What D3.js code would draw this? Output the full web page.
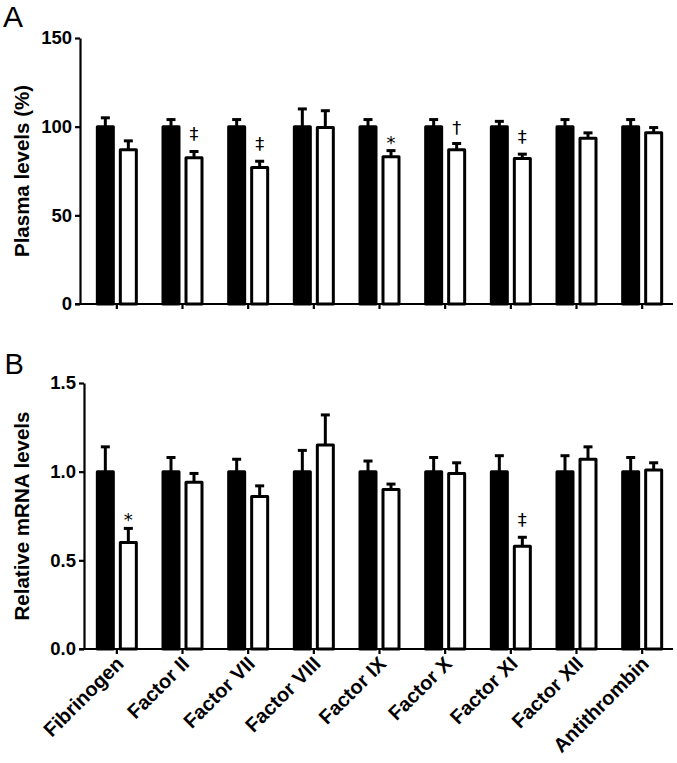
<!DOCTYPE html>
<html><head><meta charset="utf-8">
<script src="https://cdn.jsdelivr.net/npm/d3@7"></script>
<style>body{margin:0;background:#fff} svg{display:block} text{font-family:"Liberation Sans",Arial,Helvetica,sans-serif}</style>
</head><body><svg id="c" width="677" height="763"></svg>
<script>
const categories = ["Fibrinogen","Factor II","Factor VII","Factor VIII","Factor IX","Factor X","Factor XI","Factor XII","Antithrombin"];
const plasmaControl = [100,100,100,100,100,100,100,100,100];
const plasmaControlErr = [5,4,4,10,4,4,3,4,4];
const plasmaTreated = [87,82.5,77,99.5,83,87,82,93.5,96.5];
const plasmaTreatedErr = [5,3.5,3.5,9.5,3.5,3.5,2.5,3,3];
const plasmaMarks = ["","‡","‡","","*","†","‡","",""];
const plasmaTicks = [0,50,100,150];
const mrnaControl = [1,1,1,1,1,1,1,1,1];
const mrnaControlErr = [0.14,0.08,0.07,0.12,0.06,0.08,0.09,0.09,0.08];
const mrnaTreated = [0.60,0.94,0.86,1.15,0.90,0.99,0.58,1.07,1.01];
const mrnaTreatedErr = [0.08,0.05,0.06,0.17,0.03,0.06,0.05,0.07,0.04];
const mrnaMarks = ["*","","","","","","‡","",""];
const mrnaTicks = [0,0.5,1.0,1.5];

const svg = d3.select("#c");
const x = d3.scaleBand().domain(categories).range([84, 675]).padding(0);
const markOffset = {"*": 2, "‡": 11, "†": 10};

function panel(o) {
  const y = d3.scaleLinear().domain([0, o.max]).range([o.y0, o.y1]);
  const g = svg.append("g");
  const ya = g.append("g").attr("transform", `translate(${o.ax},0)`)
    .call(d3.axisLeft(y).tickValues(o.ticks).tickSize(5).tickSizeOuter(0).tickPadding(3).tickFormat(o.fmt));
  ya.selectAll("path,line").attr("stroke", "#000").attr("stroke-width", 2.2);
  ya.selectAll("text").attr("font-size", 18.5).attr("font-weight", "bold").attr("fill", "#000")
    .attr("font-family", '"Liberation Sans",Arial,sans-serif');
  const xa = g.append("g").attr("transform", `translate(0,${o.y0})`)
    .call(d3.axisBottom(x).tickSize(5).tickSizeOuter(0).tickFormat(""));
  xa.select(".domain").attr("d", `M${o.ax - 5},0H673`);
  xa.selectAll("path,line").attr("stroke", "#000").attr("stroke-width", 2.2);

  const series = [
    {vals: o.ctrl, errs: o.ctrlErr, fill: "#000", off: -11.5},
    {vals: o.trt, errs: o.trtErr, fill: "#fff", off: 11.5}
  ];
  series.forEach(s => {
    const cx = c => x(c) + x.bandwidth() / 2 + s.off;
    const eg = g.append("g");
    eg.selectAll("line.v").data(categories).join("line")
      .attr("x1", cx).attr("x2", cx)
      .attr("y1", (c, i) => y(s.vals[i])).attr("y2", (c, i) => y(s.vals[i] + s.errs[i]))
      .attr("stroke", "#000").attr("stroke-width", 3);
    eg.selectAll("line.cap").data(categories).join("line")
      .attr("x1", c => cx(c) - 4.5).attr("x2", c => cx(c) + 4.5)
      .attr("y1", (c, i) => y(s.vals[i] + s.errs[i])).attr("y2", (c, i) => y(s.vals[i] + s.errs[i]))
      .attr("stroke", "#000").attr("stroke-width", 3);
    g.append("g").selectAll("rect").data(categories).join("rect")
      .attr("x", c => cx(c) - 8).attr("width", 16)
      .attr("y", (c, i) => y(s.vals[i])).attr("height", (c, i) => o.y0 - y(s.vals[i]))
      .attr("fill", s.fill).attr("stroke", "#000").attr("stroke-width", 3).attr("stroke-linejoin", "round");
  });
  g.append("g").selectAll("text").data(categories).join("text")
    .attr("x", c => x(c) + x.bandwidth() / 2 + 11.5)
    .attr("y", (c, i) => y(o.trt[i] + o.trtErr[i]) - (markOffset[o.marks[i]] || 0))
    .attr("text-anchor", "middle").attr("font-size", 20).attr("fill", "#000")
    .style("font-family", '"DejaVu Sans",sans-serif').style("font-size", "18px")
    .text((c, i) => o.marks[i]);
  g.append("text").attr("transform", `translate(29,${(o.y0 + o.y1) / 2}) rotate(-90)`)
    .attr("text-anchor", "middle").attr("font-size", 20.5).attr("font-weight", "bold").text(o.title);
  g.append("text").attr("x", o.lx).attr("y", o.ly).attr("font-size", o.lsize).text(o.letter);
  if (o.xlabels) {
    g.append("g").selectAll("text").data(categories).join("text")
      .attr("transform", c => `translate(${x(c) + x.bandwidth() / 2 + 8},${o.y0 + 16}) rotate(-45)`)
      .attr("text-anchor", "end").attr("font-size", 20).attr("font-weight", "bold").text(c => c);
  }
}

panel({max: 150, y0: 304, y1: 38, ax: 80, ticks: plasmaTicks, fmt: d3.format("d"),
  ctrl: plasmaControl, ctrlErr: plasmaControlErr, trt: plasmaTreated, trtErr: plasmaTreatedErr,
  marks: plasmaMarks, title: "Plasma levels (%)", letter: "A", lx: 3, ly: 27, lsize: 30, xlabels: false});
panel({max: 1.5, y0: 649, y1: 383, ax: 84, ticks: mrnaTicks, fmt: d3.format(".1f"),
  ctrl: mrnaControl, ctrlErr: mrnaControlErr, trt: mrnaTreated, trtErr: mrnaTreatedErr,
  marks: mrnaMarks, title: "Relative mRNA levels", letter: "B", lx: 4.5, ly: 374, lsize: 29, xlabels: true});
</script>
</body></html>
